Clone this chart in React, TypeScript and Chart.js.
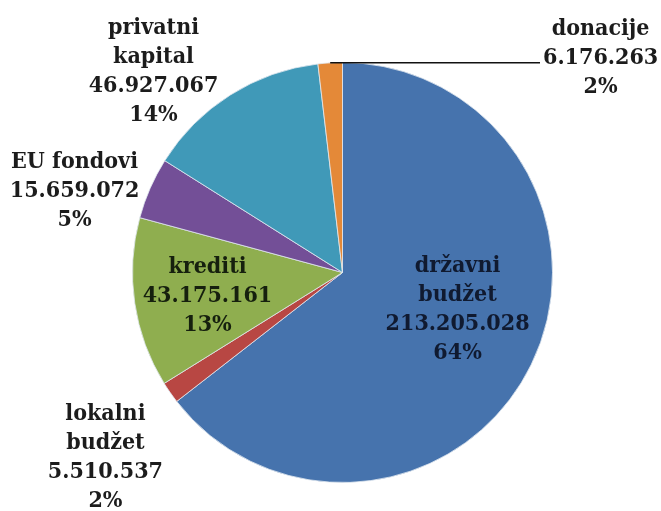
import React, { useEffect, useRef } from "react";
import { Chart, registerables } from "chart.js";

Chart.register(...registerables);

const labels: string[][] = [
  ["državni", "budžet"],
  ["lokalni", "budžet"],
  ["krediti"],
  ["EU fondovi"],
  ["privatni", "kapital"],
  ["donacije"],
];
const values: number[] = [213205028, 5510537, 43175161, 15659072, 46927067, 6176263];
const colors: string[] = ["#4673AD", "#B84743", "#8FAE4F", "#734F97", "#4099B8", "#E48938"];
const textColors: string[] = ["#101a30", "#1c1c1c", "#16200e", "#1c1c1c", "#1c1c1c", "#1c1c1c"];
// label block centre, in units of the pie radius from the pie centre
const labelDx: number[] = [0.548, -1.129, -0.643, -1.276, -0.9, 1.229];
const labelDy: number[] = [0.176, 0.879, 0.11, -0.388, -0.955, -1.019];
const leaderLine: boolean[] = [false, false, false, false, false, true];

const FONT = 'bold 23px "DejaVu Serif Condensed", "DejaVu Serif", serif';
const LINE_H = 29;

function fmt(n: number): string {
  return String(n).replace(/\B(?=(\d{3})+(?!\d))/g, ".");
}

const labelPlugin = {
  id: "pieLabels",
  afterDraw(chart: any) {
    const meta = chart.getDatasetMeta(0);
    const ctx = chart.ctx as CanvasRenderingContext2D;
    const total = values.reduce((a, b) => a + b, 0);
    ctx.save();
    ctx.font = FONT;
    ctx.textAlign = "center";
    ctx.textBaseline = "middle";
    meta.data.forEach((arc: any, i: number) => {
      const { x, y, outerRadius, startAngle, endAngle } = arc.getProps(
        ["x", "y", "outerRadius", "startAngle", "endAngle"],
        true
      );
      const lines = [...labels[i], fmt(values[i]), Math.round((values[i] / total) * 100) + "%"];
      const cx = x + labelDx[i] * outerRadius;
      const cy = y + labelDy[i] * outerRadius;
      const top = cy - ((lines.length - 1) * LINE_H) / 2;
      ctx.fillStyle = textColors[i];
      lines.forEach((t, k) => ctx.fillText(t, cx, top + k * LINE_H));
      if (leaderLine[i]) {
        const mid = (startAngle + endAngle) / 2;
        const px = x + Math.cos(mid) * outerRadius;
        const py = y + Math.sin(mid) * outerRadius;
        const w = Math.max(...lines.map((t) => ctx.measureText(t).width));
        ctx.strokeStyle = "#111";
        ctx.lineWidth = 1.5;
        ctx.beginPath();
        ctx.moveTo(px, py);
        ctx.lineTo(cx - w / 2 - 3, py);
        ctx.stroke();
      }
    });
    ctx.restore();
  },
};

export default function App() {
  const ref = useRef<HTMLCanvasElement>(null);
  useEffect(() => {
    if (!ref.current) return;
    const chart = new Chart(ref.current, {
      type: "pie",
      data: {
        labels: labels.map((l) => l.join(" ")),
        datasets: [
          {
            data: values,
            backgroundColor: colors,
            borderColor: "rgba(225,232,240,0.8)",
            borderWidth: 1,
            hoverOffset: 0,
          },
        ],
      },
      options: {
        responsive: false,
        animation: false,
        layout: { padding: { left: 132, top: 62, right: 108, bottom: 28 } },
        plugins: {
          legend: { display: false },
          tooltip: { enabled: false },
        },
      },
      plugins: [labelPlugin],
    });
    return () => chart.destroy();
  }, []);
  return (
    <div style={{ position: "fixed", left: 0, top: 0, width: 661, height: 511, background: "#fff" }}>
      <canvas ref={ref} width={661} height={511} />
    </div>
  );
}
